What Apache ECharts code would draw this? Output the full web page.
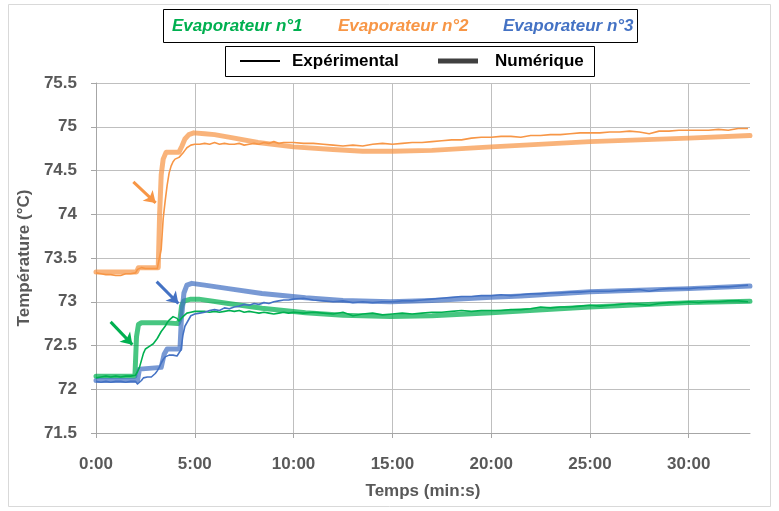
<!DOCTYPE html>
<html><head><meta charset="utf-8">
<script src="https://cdn.jsdelivr.net/npm/echarts@6/dist/echarts.min.js"></script>
<style>html,body{margin:0;padding:0;background:#fff}#c{width:779px;height:511px}</style>
</head><body><div id="c"></div>
<script>
// ---- time samples of the experimental measurements (minutes)
const expTime = [0,0.25,0.5,0.75,1,1.25,1.5,1.75,2,
2.1,2.2,2.3,2.4,2.5,2.6,2.7,2.8,2.9,3,3.1,3.2,3.3,3.4,3.5,3.6,3.7,3.8,3.9,4,4.1,4.2,4.3,4.4,4.5,4.6,4.7,4.8,4.9,5,
5.25,5.5,5.75,6,6.25,6.5,6.75,7,7.25,7.5,7.75,8,8.25,8.5,8.75,9,9.25,9.5,9.75,10,
10.5,11,11.5,12,12.5,13,13.5,14,14.5,15,15.5,16,16.5,17,17.5,18,18.5,19,19.5,20,
20.5,21,21.5,22,22.5,23,23.5,24,24.5,25,25.5,26,26.5,27,27.5,28,28.5,29,29.5,30,
30.5,31,31.5,32,32.5,33];

// Evaporateur n°1 (green) - experimental
const expEvap1 = [72.13,72.14,72.15,72.14,72.15,72.14,72.15,72.15,72.16,
72.2,72.25,72.33,72.41,72.46,72.48,72.49,72.51,72.52,72.53,72.58,72.62,72.66,72.68,72.72,72.76,72.79,72.81,72.83,72.84,72.81,72.78,72.79,72.83,72.85,72.87,72.87,72.88,72.88,72.89,
72.89,72.89,72.88,72.89,72.88,72.89,72.90,72.89,72.90,72.88,72.89,72.88,72.87,72.88,72.87,72.86,72.87,72.88,72.87,72.88,
72.87,72.88,72.87,72.86,72.88,72.84,72.86,72.87,72.85,72.86,
72.87,72.86,72.87,72.88,72.88,72.89,72.90,72.89,72.90,72.90,
72.90,72.91,72.91,72.92,72.94,72.93,72.94,72.94,72.95,72.96,
72.95,72.96,72.97,72.98,72.97,72.96,72.98,72.99,72.99,73.00,
72.99,73.00,73.00,73.01,73.01,73.00];

// Evaporateur n°2 (orange) - experimental
const expEvap2 = [73.33,73.32,73.31,73.31,73.30,73.30,73.32,73.32,73.33,
73.37,73.38,73.39,73.38,73.38,73.38,73.38,73.38,73.38,73.38,73.38,73.40,73.6,73.95,74.15,74.33,74.47,74.55,74.60,74.63,74.64,74.65,74.66,74.70,74.73,74.76,74.78,74.79,74.80,74.80,
74.80,74.81,74.80,74.82,74.80,74.81,74.80,74.80,74.81,74.79,74.80,74.81,74.80,74.82,74.81,74.83,74.81,74.82,74.82,74.82,
74.81,74.81,74.80,74.79,74.78,74.79,74.78,74.80,74.81,74.80,
74.81,74.82,74.82,74.83,74.84,74.85,74.85,74.87,74.88,74.88,
74.89,74.89,74.88,74.90,74.90,74.91,74.91,74.92,74.93,74.93,
74.93,74.94,74.94,74.95,74.94,74.92,74.95,74.95,74.96,74.96,
74.96,74.96,74.97,74.96,74.98,74.98];

// Evaporateur n°3 (blue) - experimental
const expEvap3 = [72.09,72.08,72.09,72.08,72.09,72.09,72.08,72.09,72.09,
72.06,72.04,72.10,72.13,72.14,72.14,72.15,72.14,72.16,72.18,72.21,72.25,72.30,72.34,72.37,72.38,72.39,72.38,72.39,72.38,72.38,72.38,72.45,72.62,72.72,72.76,72.80,72.84,72.85,72.86,
72.87,72.88,72.90,72.91,72.90,72.93,72.92,72.94,72.95,72.97,72.96,72.98,72.97,72.99,72.98,73.00,73.01,73.02,73.02,73.03,
73.04,73.02,73.01,73.00,73.01,72.99,73.00,72.99,73.00,73.00,
73.01,73.01,73.02,73.03,73.04,73.05,73.06,73.06,73.07,73.07,
73.08,73.07,73.08,73.09,73.09,73.10,73.10,73.11,73.11,73.12,
73.12,73.12,73.13,73.13,73.14,73.12,73.14,73.15,73.15,73.15,
73.16,73.16,73.17,73.17,73.18,73.19];

// ---- numerical results (time in minutes, temperature)
const numTime1 = [0,1.97,2.05,2.15,2.3,3.5,4.15,4.25,4.33,4.45,4.8,5.2,6.7,8.4,10.6,12.5,14.9,17,20,25,30,33.1];
const numEvap1 = [72.15,72.15,72.6,72.74,72.76,72.76,72.75,72.8,72.95,73.01,73.03,73.03,72.98,72.925,72.875,72.845,72.83,72.84,72.875,72.94,72.99,73.005];

const numTime2 = [0,2.05,2.15,3.15,3.22,3.3,3.4,3.55,4.2,4.35,4.5,4.7,4.95,5.5,6,7,8.2,10,12,13.5,15,17,20,25,30,33.1];
const numEvap2 = [73.34,73.34,73.39,73.39,74.0,74.45,74.63,74.71,74.71,74.78,74.86,74.91,74.93,74.92,74.91,74.87,74.82,74.77,74.74,74.72,74.72,74.73,74.77,74.83,74.87,74.90];

const numTime3 = [0,2.1,2.2,2.3,3.3,3.45,3.6,4.25,4.32,4.45,4.6,4.85,5.5,6.7,8.4,10.6,12.5,14.9,17,20,21.5,25,30,33.1];
const numEvap3 = [72.10,72.10,72.23,72.24,72.25,72.4,72.46,72.46,72.8,73.1,73.19,73.21,73.19,73.15,73.095,73.045,73.015,73.0,73.015,73.05,73.065,73.115,73.15,73.18];

// ---- axis tick labels
const xTickLabels = ['0:00','5:00','10:00','15:00','20:00','25:00','30:00'];

// ---- annotation arrows (data coordinates: start, end)
const arrowEvap1 = [[0.74,72.77],[1.84,72.51]];
const arrowEvap2 = [[1.89,74.37],[3.02,74.13]];
const arrowEvap3 = [[3.07,73.23],[4.17,72.98]];

const C1 = '#00b050', C2 = '#f79646', C3 = '#4472c4';
const FONT = 'Liberation Sans, Arial, sans-serif';

function pairs(t, v){ return t.map((x,i)=>[x, v[i]]); }
function arrowMark(a, color){
  return {
    silent:true, symbol:['none','arrow'], symbolSize:[11,11],
    label:{show:false}, lineStyle:{color:color, width:3, type:'solid'},
    data:[[{coord:a[0]},{coord:a[1]}]]
  };
}
function numSeries(name, t, v, color){
  return {name, type:'line', data:pairs(t,v), showSymbol:false, symbol:'none',
    lineStyle:{color, width:5, opacity:0.72, cap:'round', join:'round'}, z:2, animation:false};
}
function expSeries(name, v, color, arrow){
  return {name, type:'line', data:pairs(expTime,v), showSymbol:false, symbol:'none',
    lineStyle:{color, width:1.6, join:'round'}, z:3, animation:false,
    markLine: arrowMark(arrow, color)};
}

const chart = echarts.init(document.getElementById('c'), null, {renderer:'canvas'});
chart.setOption({
  animation:false,
  backgroundColor:'#fff',
  grid:{left:96, right:29, top:83, bottom:78},
  xAxis:{type:'value', min:0, max:33.1, interval:5,
    axisLine:{show:true, lineStyle:{color:'#a6a6a6'}},
    axisTick:{show:true, length:5, lineStyle:{color:'#a6a6a6'}},
    axisLabel:{margin:23, fontSize:17, fontWeight:'bold', color:'#595959', fontFamily:FONT, showMaxLabel:false,
      formatter:v=>{const i=Math.round(v/5); return (Math.abs(v-i*5)<1e-6 && xTickLabels[i]) ? xTickLabels[i] : '';}},
    splitLine:{show:true, showMaxLine:false, lineStyle:{color:'#bfbfbf', width:1}},
    name:'Temps (min:s)', nameLocation:'middle', nameGap:50,
    nameTextStyle:{fontSize:17, fontWeight:'bold', color:'#595959', fontFamily:FONT}
  },
  yAxis:{type:'value', min:71.5, max:75.5, interval:0.5,
    axisLine:{show:true, lineStyle:{color:'#a6a6a6'}},
    axisTick:{show:true, length:5, lineStyle:{color:'#a6a6a6'}},
    axisLabel:{margin:19, fontSize:17, fontWeight:'bold', color:'#595959', fontFamily:FONT},
    splitLine:{show:true, lineStyle:{color:'#bfbfbf', width:1}},
    name:'Température (°C)', nameLocation:'middle', nameGap:59, nameRotate:90,
    nameTextStyle:{fontSize:17, fontWeight:'bold', color:'#595959', fontFamily:FONT}
  },
  series:[
    numSeries('Num1', numTime1, numEvap1, C1),
    numSeries('Num2', numTime2, numEvap2, C2),
    numSeries('Num3', numTime3, numEvap3, C3),
    expSeries('Exp1', expEvap1, C1, arrowEvap1),
    expSeries('Exp2', expEvap2, C2, arrowEvap2),
    expSeries('Exp3', expEvap3, C3, arrowEvap3)
  ],
  graphic:[
    {type:'rect', silent:true, shape:{x:8.5,y:4.5,width:762,height:502}, style:{fill:'none', stroke:'#d9d9d9', lineWidth:1}},
    {type:'rect', silent:true, shape:{x:163.5,y:9.5,width:474,height:33}, style:{fill:'#fff', stroke:'#000', lineWidth:1}},
    {type:'text', silent:true, x:172, y:26, style:{text:'Evaporateur n°1', fill:C1, font:'italic bold 17px '+FONT, verticalAlign:'middle'}},
    {type:'text', silent:true, x:338, y:26, style:{text:'Evaporateur n°2', fill:C2, font:'italic bold 17px '+FONT, verticalAlign:'middle'}},
    {type:'text', silent:true, x:503, y:26, style:{text:'Evaporateur n°3', fill:C3, font:'italic bold 17px '+FONT, verticalAlign:'middle'}},
    {type:'rect', silent:true, shape:{x:225.5,y:46.5,width:369,height:30}, style:{fill:'#fff', stroke:'#000', lineWidth:1}},
    {type:'line', silent:true, shape:{x1:240,y1:61,x2:280,y2:61}, style:{stroke:'#000', lineWidth:2}},
    {type:'text', silent:true, x:292, y:61, style:{text:'Expérimental', fill:'#000', font:'bold 17px '+FONT, verticalAlign:'middle'}},
    {type:'line', silent:true, shape:{x1:438,y1:61,x2:478,y2:61}, style:{stroke:'#404040', lineWidth:5}},
    {type:'text', silent:true, x:495, y:61, style:{text:'Numérique', fill:'#000', font:'bold 17px '+FONT, verticalAlign:'middle'}}
  ]
});
</script>
</body></html>
